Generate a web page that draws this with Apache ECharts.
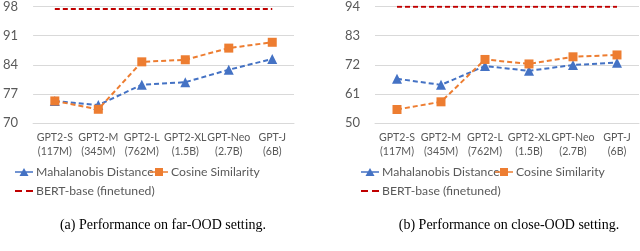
<!DOCTYPE html>
<html><head><meta charset="utf-8">
<script src="https://cdn.jsdelivr.net/npm/echarts@6/dist/echarts.min.js"></script>
<style>html,body{margin:0;padding:0;background:#fff}#c{width:640px;height:251px}</style>
</head><body><div id="c"></div>
<script>
const categories = ["GPT2-S\n(117M)", "GPT2-M\n(345M)", "GPT2-L\n(762M)", "GPT2-XL\n(1.5B)", "GPT-Neo\n(2.7B)", "GPT-J\n(6B)"];
const farMahalanobis = [75.3, 74.3, 79.2, 79.8, 82.8, 85.4];
const farCosine = [75.3, 73.3, 84.7, 85.2, 88.0, 89.4];
const farBert = [97.4, 97.4, 97.4, 97.4, 97.4, 97.4];
const closeMahalanobis = [66.7, 64.4, 71.5, 69.7, 71.9, 72.8];
const closeCosine = [55.1, 58.0, 74.0, 72.3, 75.0, 75.7];
const closeBert = [93.9, 93.9, 93.9, 93.9, 93.9, 93.9];
const farTicks = {min: 70, max: 98, interval: 7};
const closeTicks = {min: 50, max: 94, interval: 11};
const captions = ["(a) Performance on far-OOD setting.", "(b) Performance on close-OOD setting."];
const names = ["Mahalanobis Distance", "Cosine Similarity", "BERT-base (finetuned)"];

const BLUE = "#4472C4", ORANGE = "#ED7D31", RED = "#C00000", GRID = "#d9d9d9", TXT = "#595959";
const FONT = "Lato";

const ICON_TRI = "path://M0,4.2H18V5.8H0Z M9,1L13.5,9H4.5Z";
const ICON_SQ = "path://M0,4.2H18V5.8H0Z M5,1H13V9H5Z";
const ICON_DASH = "path://M0,4H7V6H0Z M11,4H18V6H11Z";

function xAxis(i) {
  return {
    type: "category", gridIndex: i, data: categories, boundaryGap: true,
    axisLine: {lineStyle: {color: GRID, width: 1}}, axisTick: {show: false},
    axisLabel: {interval: 0, color: TXT, fontFamily: FONT, fontSize: 10.6, lineHeight: 14, margin: 8}
  };
}
function yAxis(i, t) {
  return {
    type: "value", gridIndex: i, min: t.min, max: t.max, interval: t.interval,
    axisLine: {show: false}, axisTick: {show: false},
    splitLine: {lineStyle: {color: GRID, width: 1}},
    axisLabel: {color: TXT, fontFamily: FONT, fontSize: 13, margin: 15}
  };
}
function lineSeries(name, data, i, color, symbol, size) {
  return {
    name, type: "line", xAxisIndex: i, yAxisIndex: i, data,
    symbol, symbolSize: size, itemStyle: {color},
    lineStyle: {color, width: 2, type: [5, 3]}, z: symbol === "none" ? 1 : 3,
    showSymbol: symbol !== "none", animation: false
  };
}
const legendText = {color: TXT, fontFamily: FONT, fontSize: 12.2};
function legend(name, icon, left, top) {
  return {data: [{name, icon}], left, top, itemWidth: 18, itemHeight: 9, itemGap: 0,
    padding: 0, textStyle: Object.assign({padding: [0, 0, 0, -2]}, legendText), selectedMode: false};
}

const chart = echarts.init(document.getElementById("c"), null, {renderer: "canvas"});
chart.setOption({
  animation: false,
  textStyle: {fontFamily: FONT},
  grid: [
    {left: 30, width: 264, top: 6.5, height: 116.5, containLabel: false},
    {left: 375, width: 264, top: 6.5, height: 116.5, containLabel: false}
  ],
  xAxis: [xAxis(0), xAxis(1)],
  yAxis: [yAxis(0, farTicks), yAxis(1, closeTicks)],
  legend: [
    legend(names[0], ICON_TRI, 15, 166),
    legend(names[1], ICON_SQ, 150, 166),
    legend(names[2], ICON_DASH, 15, 185),
    legend(names[0], ICON_TRI, 361, 166),
    legend(names[1], ICON_SQ, 495, 166),
    legend(names[2], ICON_DASH, 361, 185)
  ],
  series: [
    lineSeries(names[0], farMahalanobis, 0, BLUE, "triangle", 10),
    lineSeries(names[1], farCosine, 0, ORANGE, "rect", 9),
    lineSeries(names[2], farBert, 0, RED, "none", 0),
    lineSeries(names[0], closeMahalanobis, 1, BLUE, "triangle", 10),
    lineSeries(names[1], closeCosine, 1, ORANGE, "rect", 9),
    lineSeries(names[2], closeBert, 1, RED, "none", 0)
  ],
  title: [
    {text: captions[0], left: 158, top: 213, textAlign: "center", textStyle: {fontFamily: "Liberation Serif", fontSize: 14, fontWeight: "normal", color: "#000"}},
    {text: captions[1], left: 504, top: 213, textAlign: "center", textStyle: {fontFamily: "Liberation Serif", fontSize: 14, fontWeight: "normal", color: "#000"}}
  ]
});
</script></body></html>
